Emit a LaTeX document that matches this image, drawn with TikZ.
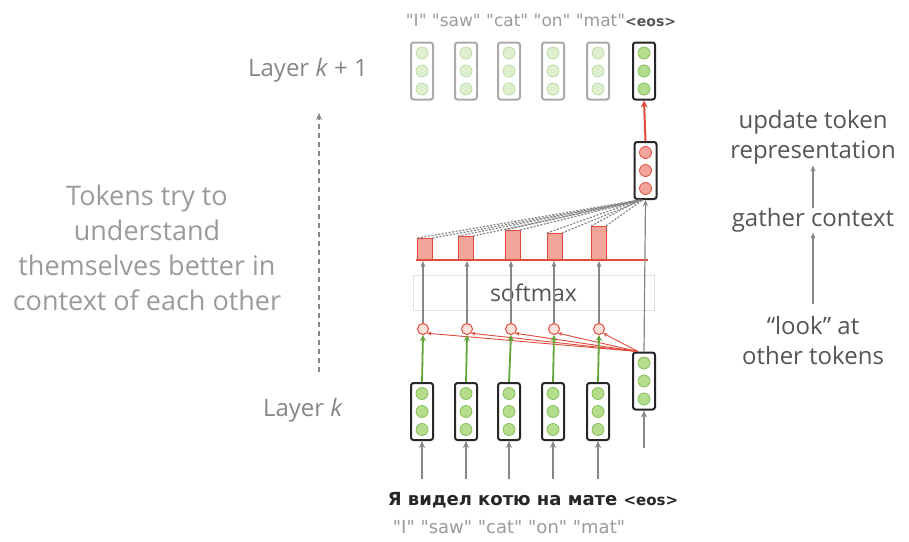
\documentclass[tikz,border=0pt]{standalone}
\usepackage{fontspec}
\setmainfont{Open Sans}
\newfontfamily\comic{DejaVu Sans}
\usetikzlibrary{arrows.meta}
\definecolor{txtgrey}{RGB}{155,155,155}
\definecolor{dkgrey}{RGB}{85,85,85}
\definecolor{arrgrey}{RGB}{135,135,135}
\definecolor{boxpale}{RGB}{170,170,170}
\definecolor{gfill}{RGB}{180,222,140}
\definecolor{gline}{RGB}{135,190,95}
\definecolor{gfillpale}{RGB}{222,240,205}
\definecolor{glinepale}{RGB}{190,220,170}
\definecolor{redl}{RGB}{225,75,60}
\definecolor{redfill}{RGB}{242,165,155}
\definecolor{pinkfill}{RGB}{252,225,220}
\definecolor{arrgreen}{RGB}{95,165,55}
\tikzset{
  vbox/.style={draw=black!85, line width=2pt, rounded corners=2.5pt,
    minimum width=22pt, minimum height=57pt, inner sep=0pt},
  vpale/.style={vbox, draw=boxpale},
  dot/.style={circle, minimum size=12pt, inner sep=0pt, line width=0.8pt},
  gdot/.style={dot, fill=gfill, draw=gline},
  pdot/.style={dot, fill=gfillpale, draw=glinepale},
  rdot/.style={dot, fill=redfill, draw=redl},
  sdot/.style={circle, minimum size=11pt, inner sep=0pt, line width=1pt, draw=redl, fill=pinkfill},
  garrow/.style={draw=arrgrey, line width=1.8pt, -{Stealth[length=7pt,width=6pt]}},
  thinarrow/.style={draw=arrgrey, line width=1.2pt, -{Stealth[length=6pt,width=5pt]}},
  greenarrow/.style={draw=arrgreen, line width=1.8pt, -{Stealth[length=6pt,width=6pt]}},
  redarrow/.style={draw=redl, line width=2pt, -{Stealth[length=7pt,width=7pt]}},
  bar/.style={draw=redl, fill=redfill, line width=0.8pt},
  bigtxt/.style={font=\fontsize{27}{35}\selectfont, text=txtgrey, align=center},
  sidetxt/.style={font=\fontsize{24}{30}\selectfont, text=dkgrey, align=center},
  laytxt/.style={font=\fontsize{24}{28}\selectfont, text=arrgrey},
}
% a column vector: box with three circles
\newcommand{\vecnode}[5]{%
  \node[#4] (#1) at (#2,#3) {};
  \node[#5] at ([yshift=-18pt]#1.center) {};
  \node[#5] at (#1.center) {};
  \node[#5] at ([yshift=18pt]#1.center) {};
}
\begin{document}
\begin{tikzpicture}[x=1pt,y=-1pt]
\useasboundingbox[fill=white] (0,0) rectangle (909,541);

% softmax layer (drawn first, lines pass through it)
\node[draw=black!12, fill=white, minimum width=241pt, minimum height=35pt,
  inner sep=0pt, font=\fontsize{23}{26}\selectfont, text=dkgrey] (sm) at (533.5,292.5) {softmax};

% input vectors of layer k
\foreach \i/\x in {1/422,2/466,3/509,4/553,5/598}{
  \vecnode{b\i}{\x}{411.5}{vbox}{gdot}
}
\vecnode{b6}{644}{381}{vbox}{gdot}

% output vectors of layer k+1
\foreach \i/\x in {1/422,2/466,3/509,4/553,5/598}{
  \vecnode{t\i}{\x}{71}{vpale}{pdot}
}
\vecnode{t6}{644}{71}{vbox}{gdot}

% updated representation
\vecnode{r}{645.5}{170.5}{vbox}{rdot}

% attention scores
\foreach \i/\x in {1/423,2/467,3/511,4/554,5/599}{
  \node[sdot] (c\i) at (\x,329) {};
}
\coordinate (base) at (0,261);

% bars of the attention weights
\foreach \i/\x/\t in {1/425/238,2/465.5/236,3/512.5/230,4/554.5/233,5/598.5/226}{
  \draw[bar] (\x-7.5,260) rectangle (\x+7.5,\t);
  \coordinate (bt\i) at (\x+7.5,\t);
  \coordinate (bl\i) at (\x-7.5,\t);
}
\draw[redl, line width=1.5pt] (416,260) -- (648,260);

% weighted sum
\foreach \i in {1,...,5}{
  \draw[arrgrey, line width=1.2pt, dash pattern=on 2pt off 1.5pt] (bt\i) -- ([xshift=-3pt]r.south);
  \draw[arrgrey, line width=1.2pt, dash pattern=on 2pt off 1.5pt] (bl\i) -- ([xshift=-6pt]r.south);
}

% arrows through softmax
\foreach \i in {1,...,5}{
  \draw[thinarrow] (c\i.north) -- (c\i.north |- base);
}
\draw[thinarrow] (b6.north) -- (r.south);

% query–key comparisons
\foreach \i in {1,...,5}{
  \draw[greenarrow] (b\i.north) -- (c\i.south);
  \draw[redl, line width=0.9pt, -{Stealth[length=4pt,width=4pt]}] ([xshift=-6pt]b6.north) -- (c\i.south east);
}

% update
\draw[redarrow] (r.north) -- (t6.south);

% inputs
\foreach \i in {1,...,5}{
  \coordinate (in\i) at ([yshift=-38pt]b\i.south);
  \draw[garrow] (in\i) -- (b\i.south);
}
\coordinate (in6) at ([yshift=-37pt]b6.south);
\draw[garrow] (in6) -- (b6.south);

% token labels
\node[font=\comic\bfseries\fontsize{18}{20}\selectfont, text=black!85] (ru) at (533,500)
  {Я видел котю на мате {\fontsize{15}{16}\selectfont<eos>}};
\node[font=\comic\fontsize{18}{20}\selectfont, text=txtgrey] (en) at (509,527)
  {"I" "saw" "cat" "on" "mat"};
\node[font=\comic\fontsize{17}{20}\selectfont, text=txtgrey] (top) at (541,20)
  {"I" "saw" "cat" "on" "mat"{\bfseries\color{dkgrey}\fontsize{14}{16}\selectfont<eos>}};

% left side
\node[laytxt] (l1) at (308,70) {Layer \textit{k} + 1};
\node[laytxt] (l0) at (303,410) {Layer \textit{k}};
\coordinate (da) at (319,372);
\coordinate (db) at (319,113);
\draw[draw=arrgrey, line width=1.3pt, dash pattern=on 5pt off 4pt, -{Stealth[length=7pt,width=6pt]}] (da) -- (db);
\node[bigtxt] (lt) at (147,248) {Tokens try to\\understand\\themselves better in\\context of each other};

% right side
\node[sidetxt] (s1) at (813,137) {update token\\representation};
\node[sidetxt] (s2) at (813,220) {gather context};
\node[sidetxt] (s3) at (813,340) {“look” at\\other tokens};
\draw[thinarrow] ([yshift=-4pt]s2.north) -- ([yshift=2pt]s1.south);
\draw[thinarrow] ([yshift=8pt]s3.north) -- ([yshift=3pt]s2.south);
\end{tikzpicture}
\end{document}
